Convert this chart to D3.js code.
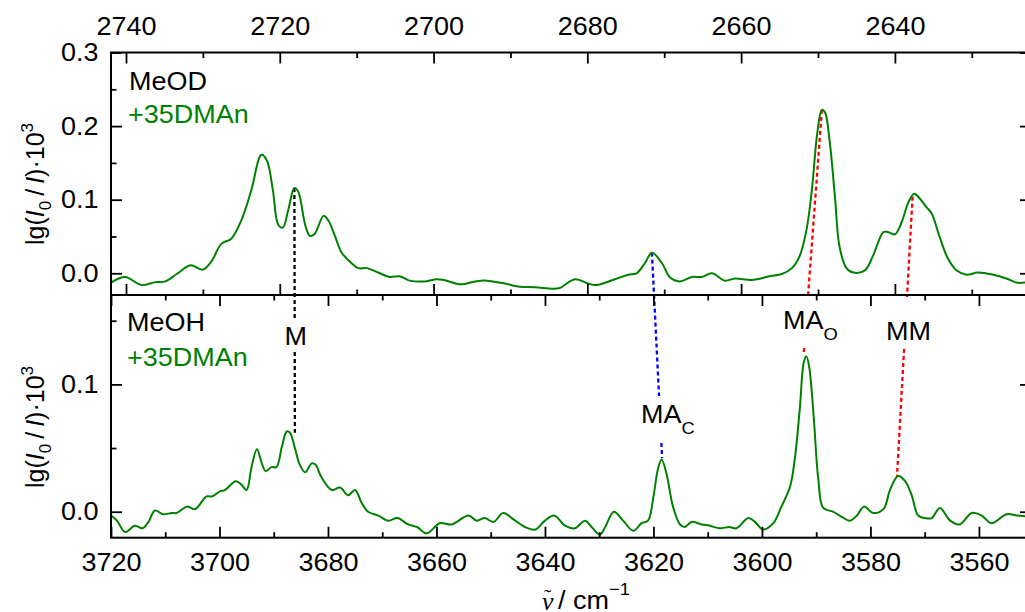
<!DOCTYPE html>
<html>
<head>
<meta charset="utf-8">
<script src="https://cdn.jsdelivr.net/npm/d3@7"></script>
<style>
  html, body { margin: 0; padding: 0; background: #fff; }
  svg { display: block; font-family: "Liberation Sans", Arial, sans-serif; }
</style>
</head>
<body>
<svg id="chart" width="1025" height="612"></svg>
<script>
// O–D stretch region (MeOD + 3,5-dimethylanisole), wavenumber in cm^-1
const odWavenumber = [
  2742.0, 2740.1, 2738.0, 2736.2, 2734.9, 2733.4, 2731.6, 2730.0, 2728.9, 2727.6,
  2726.3, 2725.0, 2723.7, 2722.4, 2721.7, 2720.9, 2720.2, 2719.6, 2718.9, 2718.1,
  2717.6, 2716.7, 2716.1, 2715.5, 2714.3, 2713.7, 2712.8, 2712.0, 2710.7, 2709.8,
  2708.7, 2707.2, 2705.7, 2704.4, 2703.1, 2701.1, 2699.6, 2698.7, 2696.4, 2694.6,
  2693.1, 2690.7, 2689.0, 2686.8, 2684.4, 2683.6, 2681.6, 2679.9, 2678.8, 2676.4,
  2674.7, 2673.6, 2672.5, 2671.6, 2670.3, 2669.3, 2668.0, 2666.4, 2665.1, 2663.8,
  2662.1, 2660.8, 2658.6, 2656.3, 2654.7, 2653.4, 2652.4, 2651.5, 2650.8, 2650.1,
  2649.5, 2649.1, 2648.5, 2647.8, 2647.2, 2646.3, 2645.4, 2643.9, 2642.8, 2641.5,
  2640.9, 2640.0, 2639.1, 2638.3, 2637.5, 2636.8, 2635.9, 2635.2, 2634.2, 2633.1,
  2632.0, 2630.7, 2629.2, 2627.2, 2625.5, 2624.0, 2622.3
];
const odAbsorbance = [
  -0.013, -0.005, -0.016, -0.012, -0.011, -0.001, 0.011, 0.005, 0.016, 0.040,
  0.047, 0.072, 0.113, 0.161, 0.154, 0.113, 0.066, 0.062, 0.086, 0.116,
  0.111, 0.066, 0.051, 0.053, 0.078, 0.072, 0.050, 0.029, 0.014, 0.007,
  0.007, 0.001, -0.005, -0.004, -0.010, -0.011, -0.008, -0.009, -0.015, -0.011,
  -0.010, -0.014, -0.018, -0.019, -0.021, -0.020, -0.008, -0.014, -0.016, -0.008,
  -0.002, 0.000, 0.014, 0.028, 0.014, -0.005, -0.011, -0.005, -0.005, 0.000,
  -0.010, -0.007, -0.009, -0.004, -0.001, 0.007, 0.023, 0.059, 0.113, 0.190,
  0.222, 0.219, 0.181, 0.104, 0.036, 0.007, 0.001, 0.004, 0.025, 0.056,
  0.056, 0.053, 0.070, 0.095, 0.108, 0.102, 0.090, 0.081, 0.050, 0.020,
  0.004, -0.002, 0.001, -0.002, -0.007, -0.013, -0.011
];

// O–H stretch region (MeOH + 3,5-dimethylanisole)
const ohWavenumber = [
  3720.0, 3718.9, 3717.4, 3715.6, 3714.2, 3713.1, 3711.9, 3710.4, 3708.8, 3707.9,
  3706.0, 3704.5, 3702.4, 3701.4, 3699.9, 3699.0, 3697.0, 3695.9, 3695.0, 3694.1,
  3693.1, 3692.2, 3691.5, 3690.4, 3689.5, 3688.5, 3687.6, 3687.0, 3686.1, 3685.2,
  3684.2, 3683.0, 3682.3, 3681.2, 3679.3, 3677.8, 3676.3, 3675.0, 3673.8, 3672.6,
  3670.7, 3668.9, 3667.2, 3665.2, 3663.6, 3661.8, 3659.4, 3657.2, 3654.1, 3652.6,
  3651.1, 3649.5, 3647.7, 3645.8, 3643.7, 3641.8, 3640.0, 3638.3, 3636.3, 3634.5,
  3632.6, 3631.4, 3629.9, 3628.9, 3627.3, 3625.6, 3623.7, 3622.2, 3621.0, 3620.0,
  3619.2, 3618.5, 3617.6, 3616.4, 3615.1, 3614.2, 3613.0, 3611.1, 3609.6, 3607.8,
  3606.0, 3604.7, 3602.5, 3601.3, 3599.8, 3597.9, 3596.4, 3594.8, 3593.9, 3593.0,
  3592.3, 3591.8, 3591.3, 3590.5, 3589.6, 3588.7, 3586.9, 3585.3, 3583.8, 3582.5,
  3581.2, 3579.5, 3577.6, 3576.4, 3574.9, 3573.6, 3572.4, 3571.2, 3569.9, 3568.7,
  3567.2, 3565.3, 3563.6, 3561.3, 3559.5, 3557.7, 3554.9, 3553.0, 3550.4
];
const ohAbsorbance = [
  -0.003, -0.007, -0.016, -0.011, -0.013, -0.008, 0.001, -0.002, -0.001, -0.001,
  0.004, 0.002, 0.012, 0.012, 0.016, 0.017, 0.024, 0.021, 0.017, 0.035,
  0.049, 0.038, 0.032, 0.035, 0.035, 0.051, 0.063, 0.062, 0.050, 0.037,
  0.031, 0.038, 0.037, 0.027, 0.017, 0.019, 0.013, 0.017, 0.007, 0.000,
  -0.003, -0.007, -0.005, -0.010, -0.012, -0.017, -0.009, -0.010, -0.003, -0.007,
  -0.005, -0.008, -0.001, -0.006, -0.012, -0.014, -0.007, -0.003, -0.011, -0.013,
  -0.007, -0.012, -0.018, -0.012, 0.000, -0.007, -0.015, -0.009, -0.007, 0.012,
  0.033, 0.041, 0.030, 0.004, -0.010, -0.012, -0.008, -0.010, -0.011, -0.013,
  -0.012, -0.013, -0.005, -0.008, -0.014, -0.009, 0.004, 0.020, 0.043, 0.082,
  0.117, 0.122, 0.114, 0.077, 0.025, 0.003, 0.000, -0.004, -0.007, -0.003,
  0.004, -0.001, 0.002, 0.017, 0.028, 0.024, 0.013, -0.003, -0.005, -0.005,
  0.003, -0.007, -0.010, -0.001, -0.003, -0.009, -0.002, -0.003, -0.004
];

// axis ticks
const odMajorTicks = [2740, 2720, 2700, 2680, 2660, 2640];
const odMinorTicks = [2730, 2710, 2690, 2670, 2650, 2630];
const ohMajorTicks = [3720, 3700, 3680, 3660, 3640, 3620, 3600, 3580, 3560];
const ohMinorTicks = [3710, 3690, 3670, 3650, 3630, 3610, 3590, 3570];
const odValueTicks = [0.0, 0.1, 0.2, 0.3];
const odValueMinor = [0.05, 0.15, 0.25];
const ohValueTicks = [0.0, 0.1];
const ohValueMinor = [0.05, 0.15];

// band assignments connecting the O–D and O–H peaks
const bandNames = ["M", "MA_C", "MA_O", "MM"];
const bandOdWavenumber = [2718.1, 2671.6, 2649.5, 2637.7];
const bandOdValue = [0.116, 0.028, 0.222, 0.104];
const bandOhWavenumber = [3686.1, 3618.4, 3592.3, 3575.1];
const bandOhValue = [0.062, 0.042, 0.124, 0.028];

// ---------------------------------------------------------------
const svg = d3.select("#chart");
const left = 111, right = 1031;
const top1 = 52.5, mid = 295, bottom2 = 537.7;
const green = "#008000";
const fontSize = 25;
const stretch = 1.08;

// slightly wide lettering
function widen(sel, origin) {
  sel.style("transform-box", "fill-box")
    .style("transform-origin", origin)
    .style("transform", `scaleX(${stretch})`);
  return sel;
}

const xOD = d3.scaleLinear().domain([2741.95, 2622.3]).range([left, right]);
const xOH = d3.scaleLinear().domain([3720, 3550.4]).range([left, right]);
const yOD = d3.scaleLinear().domain([-0.0295, 0.3]).range([mid, top1]);
const yOH = d3.scaleLinear().domain([-0.0204, 0.1702]).range([bottom2, mid]);

const defs = svg.append("defs");
defs.append("clipPath").attr("id", "clipTop")
  .append("rect").attr("x", left).attr("y", top1).attr("width", right - left).attr("height", mid - top1);
defs.append("clipPath").attr("id", "clipBottom")
  .append("rect").attr("x", left).attr("y", mid).attr("width", right - left).attr("height", bottom2 - mid);

// band connector lines, broken where the labels sit
const bandStyle = {
  "M":    { color: "#000", gap: [320, 352] },
  "MA_C": { color: "#0000ff", gap: [396, 443] },
  "MA_O": { color: "#ff0000", gap: [298, 348] },
  "MM":   { color: "#ff0000", gap: [297, 349] }
};
const connectors = svg.append("g");
bandNames.forEach((name, i) => {
  const x1 = xOD(bandOdWavenumber[i]), y1 = yOD(bandOdValue[i]);
  const x2 = xOH(bandOhWavenumber[i]), y2 = yOH(bandOhValue[i]);
  const at = y => x1 + (x2 - x1) * (y - y1) / (y2 - y1);
  const [g0, g1] = bandStyle[name].gap;
  [[y1, g0], [g1, y2]].forEach(([ya, yb]) => {
    connectors.append("line")
      .attr("x1", at(ya)).attr("y1", ya)
      .attr("x2", at(yb)).attr("y2", yb)
      .attr("stroke", bandStyle[name].color)
      .attr("stroke-width", 2.3)
      .attr("stroke-dasharray", "4,3");
  });
});

// spectra
const lineOD = d3.line()
  .x((d, i) => xOD(odWavenumber[i]))
  .y(d => yOD(d))
  .curve(d3.curveCatmullRom.alpha(0.5));
const lineOH = d3.line()
  .x((d, i) => xOH(ohWavenumber[i]))
  .y(d => yOH(d))
  .curve(d3.curveCatmullRom.alpha(0.5));

svg.append("path").datum(odAbsorbance)
  .attr("clip-path", "url(#clipTop)")
  .attr("d", lineOD).attr("fill", "none")
  .attr("stroke", green).attr("stroke-width", 2).attr("stroke-linejoin", "round");
svg.append("path").datum(ohAbsorbance)
  .attr("clip-path", "url(#clipBottom)")
  .attr("d", lineOH).attr("fill", "none")
  .attr("stroke", green).attr("stroke-width", 2).attr("stroke-linejoin", "round");

// axes
const major = 11, minor = 5.5;
function styleAxis(g, origin) {
  g.select(".domain").remove();
  g.selectAll(".tick line").attr("stroke", "#000").attr("stroke-width", 1.8);
  const t = g.selectAll(".tick text").attr("font-size", fontSize)
    .attr("font-family", "'Liberation Sans', Arial, sans-serif").attr("fill", "#000");
  widen(t, origin);
}
function addAxis(axis, tx, ty, origin) {
  svg.append("g").attr("transform", `translate(${tx},${ty})`).call(axis)
    .call(g => styleAxis(g, origin || "center"));
}

// top panel: upper axis with labels, lower axis ticks only
addAxis(d3.axisTop(xOD).tickValues(odMajorTicks).tickSize(-major).tickPadding(17.5).tickFormat(d3.format("d")), 0, top1);
addAxis(d3.axisTop(xOD).tickValues(odMinorTicks).tickSize(-minor).tickFormat(""), 0, top1);
addAxis(d3.axisBottom(xOD).tickValues(odMajorTicks).tickSize(-major).tickFormat(""), 0, mid);
addAxis(d3.axisBottom(xOD).tickValues(odMinorTicks).tickSize(-minor).tickFormat(""), 0, mid);
// bottom panel: lower axis with labels, upper axis ticks only
addAxis(d3.axisBottom(xOH).tickValues(ohMajorTicks).tickSize(-major).tickPadding(16).tickFormat(d3.format("d")), 0, bottom2);
addAxis(d3.axisBottom(xOH).tickValues(ohMinorTicks).tickSize(-minor).tickFormat(""), 0, bottom2);
addAxis(d3.axisTop(xOH).tickValues(ohMajorTicks).tickSize(-major).tickFormat(""), 0, mid);
addAxis(d3.axisTop(xOH).tickValues(ohMinorTicks).tickSize(-minor).tickFormat(""), 0, mid);
// value axes
addAxis(d3.axisLeft(yOD).tickValues(odValueTicks).tickSize(-major).tickPadding(12.5).tickFormat(d3.format(".1f")), left, 0, "right");
addAxis(d3.axisLeft(yOD).tickValues(odValueMinor).tickSize(-minor).tickFormat(""), left, 0);
addAxis(d3.axisRight(yOD).tickValues(odValueTicks).tickSize(-major).tickFormat(""), right, 0);
addAxis(d3.axisRight(yOD).tickValues(odValueMinor).tickSize(-minor).tickFormat(""), right, 0);
addAxis(d3.axisLeft(yOH).tickValues(ohValueTicks).tickSize(-major).tickPadding(12.5).tickFormat(d3.format(".1f")), left, 0, "right");
addAxis(d3.axisLeft(yOH).tickValues(ohValueMinor).tickSize(-minor).tickFormat(""), left, 0);
addAxis(d3.axisRight(yOH).tickValues(ohValueTicks).tickSize(-major).tickFormat(""), right, 0);
addAxis(d3.axisRight(yOH).tickValues(ohValueMinor).tickSize(-minor).tickFormat(""), right, 0);

// frames
svg.append("rect").attr("x", left).attr("y", top1).attr("width", right - left).attr("height", bottom2 - top1)
  .attr("fill", "none").attr("stroke", "#000").attr("stroke-width", 2);
svg.append("line").attr("x1", left).attr("x2", right).attr("y1", mid).attr("y2", mid)
  .attr("stroke", "#000").attr("stroke-width", 2);

// panel captions
const text = (x, y, s, color) => widen(svg.append("text").attr("x", x).attr("y", y)
  .attr("font-size", fontSize).attr("fill", color || "#000").text(s), "left");
text(129, 90, "MeOD");
text(128, 123, "+35DMAn", green);
text(127, 331, "MeOH");
text(127, 366, "+35DMAn", green);

// band labels
function bandLabel(x, y, main, sub) {
  const t = svg.append("text").attr("x", x).attr("y", y).attr("font-size", fontSize).attr("fill", "#000");
  t.append("tspan").text(main);
  if (sub) t.append("tspan").attr("font-size", 17).attr("dy", 11).text(sub);
  widen(t, "left");
}
bandLabel(284.5, 345, "M");
bandLabel(641, 423, "MA", "C");
bandLabel(783, 329, "MA", "O");
bandLabel(886, 340, "MM");

// value axis titles
function yTitle(cy) {
  const t = svg.append("text")
    .attr("transform", `translate(44,${cy}) rotate(-90)`)
    .attr("text-anchor", "middle").attr("font-size", fontSize).attr("fill", "#000");
  t.append("tspan").text("lg(");
  t.append("tspan").attr("font-style", "italic").text("I");
  t.append("tspan").attr("font-size", 17).attr("dy", 7).text("0");
  t.append("tspan").attr("dy", -7).text("\u2009/\u2009");
  t.append("tspan").attr("font-style", "italic").text("I");
  t.append("tspan").text(")\u00B710");
  t.append("tspan").attr("font-size", 17).attr("dy", -11).text("3");
}
yTitle(184);
yTitle(427);

// wavenumber axis title: nu with tilde, then "/ cm^-1"
const xBase = 609.5;
svg.append("text").attr("x", 542).attr("y", xBase)
  .attr("font-family", "'Liberation Serif', serif").attr("font-style", "italic")
  .attr("font-size", 26).attr("fill", "#000").text("\u03BD");
svg.append("text").attr("x", 544).attr("y", xBase - 6)
  .attr("font-family", "'Liberation Serif', serif")
  .attr("font-size", 22).attr("fill", "#000").text("\u02DC");
const xt = widen(svg.append("text").attr("x", 558).attr("y", xBase).attr("font-size", fontSize).attr("fill", "#000"), "left");
xt.append("tspan").text("/ cm");
xt.append("tspan").attr("font-size", 17).attr("dy", -14).text("\u22121");
</script>
</body>
</html>
